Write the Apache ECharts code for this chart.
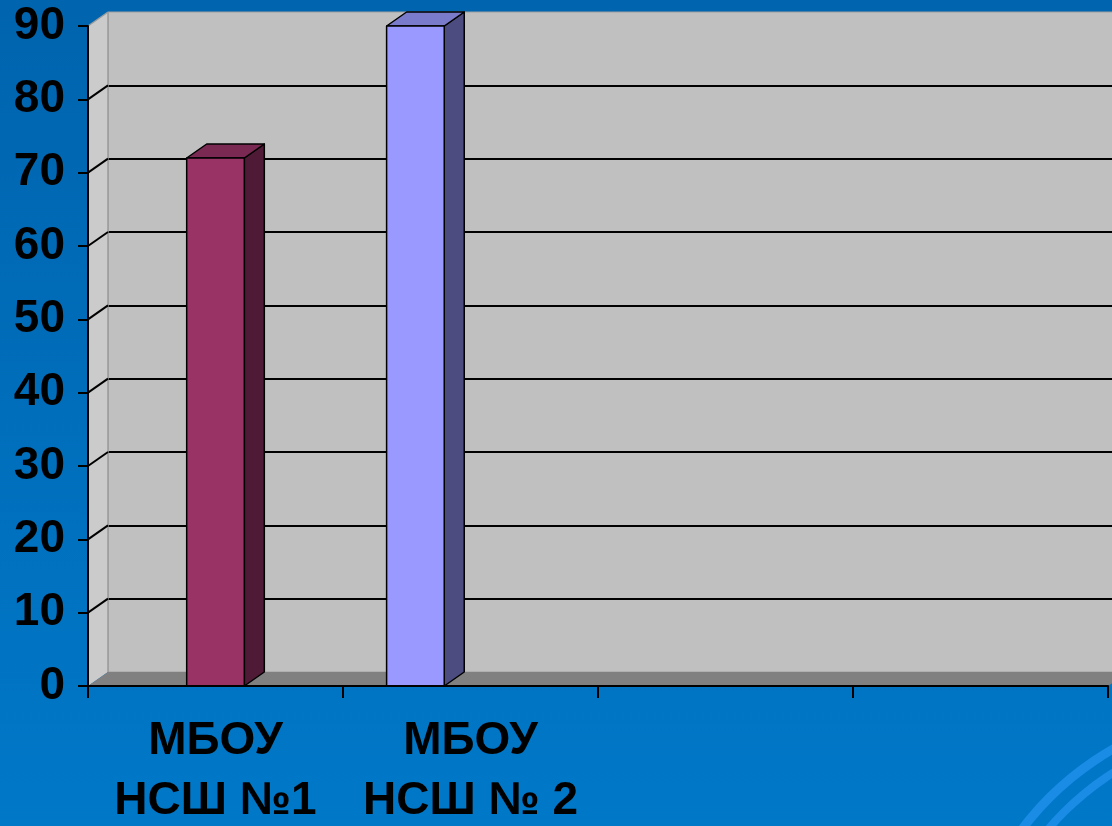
<!DOCTYPE html>
<html><head><meta charset="utf-8">
<script src="https://cdn.jsdelivr.net/npm/echarts@6/dist/echarts.min.js"></script>
<style>html,body{margin:0;padding:0;}#c{width:1112px;height:826px;}</style>
</head><body><div id="c"></div>
<script>
const categories = ['МБОУ\nНСШ №1', 'МБОУ\nНСШ № 2', '', ''];
const values = [72, 90, null, null];
const yMin = 0, yMax = 90, yStep = 10;

// styles
const frontColors = ['#993366', '#9999FF', '#993366', '#9999FF'];
const topColors = ['#7a2952', '#7b7bcc', '#7a2952', '#7b7bcc'];
const sideColors = ['#4f1a35', '#4c4c80', '#4f1a35', '#4c4c80'];
const barShift = [0, -0.216, 0, 0]; // fraction of band width
const DX = 20, DY = 14;
const G = {left: 88, top: 26, right: 4, bottom: 140};

const chart = echarts.init(document.getElementById('c'));
const font = '"Liberation Sans", Arial, sans-serif';

const splitColors = [];
for (let v = yMin; v <= yMax; v += yStep) splitColors.push((v === yMin || v === yMax) ? 'rgba(0,0,0,0)' : '#000');

chart.setOption({
  backgroundColor: {type: 'linear', x: 0, y: 0, x2: 0, y2: 1,
    colorStops: [{offset: 0, color: '#0064ae'}, {offset: 1, color: '#0078c8'}]},
  animation: false,
  graphic: [
    {type: 'ring', shape: {cx: 1262, cy: 1010, r: 305, r0: 296}, style: {fill: '#1a8ce6'}, z: 0},
    {type: 'ring', shape: {cx: 1262, cy: 1010, r: 284, r0: 276}, style: {fill: '#1a8ce6'}, z: 0},
    {type: 'ring', shape: {cx: 1262, cy: 1010, r: 232, r0: 224}, style: {fill: '#1a8ce6'}, z: 0}
  ],
  grid: [
    {left: G.left + DX, top: G.top - DY, right: G.right - DX, bottom: G.bottom + DY, outerBoundsMode: 'none',
     show: true, backgroundColor: '#c0c0c0', borderColor: '#a0a0a0', borderWidth: 1},
    {left: G.left, top: G.top, right: G.right, bottom: G.bottom, outerBoundsMode: 'none'}
  ],
  xAxis: [
    {type: 'category', gridIndex: 0, data: categories, show: false},
    {type: 'category', gridIndex: 1, data: categories, z: 5,
     axisLine: {lineStyle: {color: '#000', width: 2}},
     axisTick: {show: true, length: 12, lineStyle: {color: '#000', width: 2}},
     axisLabel: {color: '#000', fontFamily: font, fontWeight: 'bold', fontSize: 46, lineHeight: 60, margin: 25, interval: 0}}
  ],
  yAxis: [
    {type: 'value', gridIndex: 0, min: yMin, max: yMax, interval: yStep,
     axisLine: {show: false}, axisTick: {show: false}, axisLabel: {show: false},
     splitLine: {show: true, lineStyle: {color: splitColors, width: 2}}},
    {type: 'value', gridIndex: 1, min: yMin, max: yMax, interval: yStep, z: 5,
     axisLine: {show: true, lineStyle: {color: '#000', width: 2}},
     axisTick: {show: true, length: 10, lineStyle: {color: '#000', width: 2}},
     splitLine: {show: false},
     axisLabel: {color: '#000', fontFamily: font, fontWeight: 'bold', fontSize: 46, margin: 23, padding: [8, 0, 0, 0]}}
  ],
  series: [
    {type: 'custom', xAxisIndex: 1, yAxisIndex: 1, z: 1, silent: true,
     data: [[0, 0]],
     renderItem: function (params, api) {
       const cs = params.coordSys;
       const x = cs.x, y = cs.y, h = cs.height, w = cs.width;
       const children = [];
       children.push({type: 'polygon', shape: {points: [[x, y], [x + DX, y - DY], [x + DX, y + h - DY], [x, y + h]]},
         style: {fill: '#cbcbcb', stroke: null}});
       children.push({type: 'polygon', shape: {points: [[x, y + h], [x + DX, y + h - DY], [x + w + DX, y + h - DY], [x + w, y + h]]},
         style: {fill: '#808080', stroke: null}});
       children.push({type: 'line', shape: {x1: x + DX, y1: y - DY, x2: x + DX, y2: y + h - DY}, style: {stroke: '#9a9a9a', lineWidth: 1.5}});
       children.push({type: 'line', shape: {x1: x, y1: y, x2: x + DX, y2: y - DY}, style: {stroke: '#9a9a9a', lineWidth: 1.5}});
       for (let v = yMin + yStep; v < yMax; v += yStep) {
         const py = api.coord([0, v])[1];
         children.push({type: 'line', shape: {x1: x, y1: py, x2: x + DX, y2: py - DY}, style: {stroke: '#000', lineWidth: 2}});
       }
       return {type: 'group', children: children};
     }},
    {type: 'custom', xAxisIndex: 1, yAxisIndex: 1, z: 3, silent: true,
     data: values.map((v, i) => [i, v]).filter(d => d[1] != null),
     renderItem: function (params, api) {
       const idx = api.value(0), val = api.value(1);
       const p0 = api.coord([idx, 0]);
       const p1 = api.coord([idx, val]);
       const band = api.size([1, 0])[0];
       const half = band * 0.113;
       const cx = p0[0] + barShift[idx] * band;
       const l = cx - half, r = cx + half, t = p1[1], b = p0[1];
       const st = {stroke: '#000', lineWidth: 1.5, lineJoin: 'round'};
       return {type: 'group', children: [
         {type: 'polygon', shape: {points: [[r, t], [r + DX, t - DY], [r + DX, b - DY], [r, b]]}, style: Object.assign({fill: sideColors[idx]}, st)},
         {type: 'polygon', shape: {points: [[l, t], [l + DX, t - DY], [r + DX, t - DY], [r, t]]}, style: Object.assign({fill: topColors[idx]}, st)},
         {type: 'rect', shape: {x: l, y: t, width: r - l, height: b - t}, style: Object.assign({fill: frontColors[idx]}, st)}
       ]};
     }}
  ]
});
</script></body></html>
